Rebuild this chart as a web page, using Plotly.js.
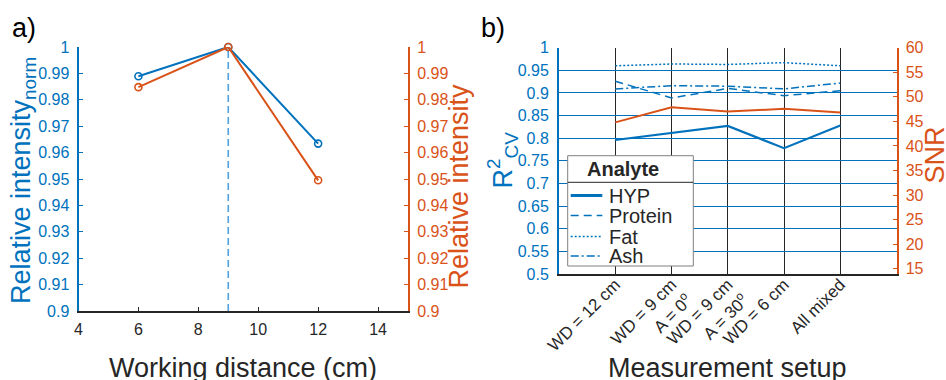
<!DOCTYPE html>
<html>
<head>
<meta charset="utf-8">
<script src="https://cdn.plot.ly/plotly-3.0.1.min.js"></script>
<style>
  html, body { margin: 0; padding: 0; background: #fff; }
  #chart { width: 946px; height: 380px; }
</style>
</head>
<body>
<div id="chart"></div>
<script>
// ---- a) intensity versus working distance ----
const workingDistance = [6, 9, 12];
const relIntensityNorm = [0.9889, 1.0, 0.9634];
const relIntensity = [0.9848, 1.0, 0.9495];
const bestDistance = 9;
const intensityRange = [0.9, 1];
const distanceTicks = [4, 6, 8, 10, 12, 14];
const intensityTicks = [0.9, 0.91, 0.92, 0.93, 0.94, 0.95, 0.96, 0.97, 0.98, 0.99, 1];
const intensityTickText = ['0.9', '0.91', '0.92', '0.93', '0.94', '0.95', '0.96', '0.97', '0.98', '0.99', '1'];

// ---- b) model quality per measurement setup ----
const setups = ['WD = 12 cm', 'WD = 9 cm<br>A = 0<sup>o</sup>', 'WD = 9 cm<br>A = 30<sup>o</sup>', 'WD = 6 cm', 'All mixed'];
const r2HYP = [0.796, 0.811, 0.827, 0.778, 0.828];
const r2Protein = [0.926, 0.889, 0.910, 0.894, 0.905];
const r2Fat = [0.960, 0.964, 0.963, 0.967, 0.960];
const r2Ash = [0.909, 0.916, 0.915, 0.909, 0.922];
const snr = [44.8, 47.85, 47.0, 47.55, 46.8];
const r2Ticks = [0.5, 0.55, 0.6, 0.65, 0.7, 0.75, 0.8, 0.85, 0.9, 0.95, 1];
const r2TickText = ['0.5', '0.55', '0.6', '0.65', '0.7', '0.75', '0.8', '0.85', '0.9', '0.95', '1'];
const snrTicks = [15, 20, 25, 30, 35, 40, 45, 50, 55, 60];
const analytes = ['HYP', 'Protein', 'Fat', 'Ash'];

const BLUE = '#0072BD';
const ORANGE = '#D95319';
const DARK = '#262626';
const LIGHTBLUE = '#4FA0DC';
const FONT = 'Liberation Sans, Arial, Helvetica, sans-serif';

const W = 946, H = 380;
const px = x => x / W;
const py = y => 1 - y / H;

const dashStyles = {
  HYP: 'solid',
  Protein: '8px,5px',
  Fat: '2px,2px',
  Ash: '8px,3px,2px,3px'
};
const widths = { HYP: 2.2, Protein: 1.5, Fat: 1.5, Ash: 1.5 };
const r2Series = { HYP: r2HYP, Protein: r2Protein, Fat: r2Fat, Ash: r2Ash };

const traces = [
  {
    x: [bestDistance, bestDistance], y: intensityRange,
    mode: 'lines', line: { color: LIGHTBLUE, width: 1.6, dash: '7px,4px' },
    xaxis: 'x', yaxis: 'y', showlegend: false, hoverinfo: 'skip'
  },
  {
    x: workingDistance, y: relIntensityNorm,
    mode: 'lines+markers', cliponaxis: false,
    line: { color: BLUE, width: 2 },
    marker: { symbol: 'circle-open', size: 7, color: BLUE, line: { width: 1.6, color: BLUE } },
    xaxis: 'x', yaxis: 'y', showlegend: false
  },
  {
    x: workingDistance, y: relIntensity,
    mode: 'lines+markers', cliponaxis: false,
    line: { color: ORANGE, width: 2 },
    marker: { symbol: 'circle-open', size: 7, color: ORANGE, line: { width: 1.6, color: ORANGE } },
    xaxis: 'x', yaxis: 'y2', showlegend: false
  }
];

analytes.forEach(name => {
  traces.push({
    x: setups, y: r2Series[name], name: name,
    mode: 'lines',
    line: { color: BLUE, width: widths[name], dash: dashStyles[name] },
    xaxis: 'x2', yaxis: 'y3', showlegend: false
  });
});

traces.push({
  x: setups, y: snr, name: 'SNR',
  mode: 'lines',
  line: { color: ORANGE, width: 2 },
  xaxis: 'x2', yaxis: 'y4', showlegend: false
});

const tickFont = (c, s) => ({ family: FONT, size: s || 16, color: c });

// legend box for panel b
const lg = { x0: 567.7, x1: 693.3, y0: 155.7, y1: 266, sep: 182.3, sx0: 570.7, sx1: 602.3, tx: 606.5 };
const rowY = [195.5, 215.5, 236.5, 256];

const shapes = [
  {
    type: 'rect', xref: 'paper', yref: 'paper', layer: 'above',
    x0: px(lg.x0), x1: px(lg.x1), y0: py(lg.y1), y1: py(lg.y0),
    fillcolor: '#ffffff', line: { color: '#7f7f7f', width: 1 }
  },
  {
    type: 'line', xref: 'paper', yref: 'paper', layer: 'above',
    x0: px(lg.x0), x1: px(lg.x1), y0: py(lg.sep), y1: py(lg.sep),
    line: { color: DARK, width: 1 }
  }
];
analytes.forEach((name, i) => {
  shapes.push({
    type: 'line', xref: 'paper', yref: 'paper', layer: 'above',
    x0: px(lg.sx0), x1: px(lg.sx1), y0: py(rowY[i]), y1: py(rowY[i]),
    line: { color: BLUE, width: name === 'HYP' ? 3 : 1.5, dash: dashStyles[name] }
  });
});

const titleFont = c => ({ family: FONT, size: 27, color: c });

const annotations = [
  { text: 'a)', x: px(10), y: py(28), xanchor: 'left', yanchor: 'middle', font: { family: FONT, size: 27, color: '#000' } },
  { text: 'b)', x: px(479), y: py(28), xanchor: 'left', yanchor: 'middle', font: { family: FONT, size: 27, color: '#000' } },
  { text: 'Relative intensity<sub>norm</sub>', x: px(23), y: py(181), textangle: -90, xanchor: 'center', yanchor: 'middle', font: titleFont(BLUE) },
  { text: 'Relative intensity', x: px(458), y: py(186.5), textangle: -90, xanchor: 'center', yanchor: 'middle', font: titleFont(ORANGE) },
  { text: 'Working distance (cm)', x: px(243), y: py(368), xanchor: 'center', yanchor: 'middle', font: titleFont(DARK) },
  { text: 'Measurement setup', x: px(727), y: py(368), xanchor: 'center', yanchor: 'middle', font: titleFont(DARK) },
  { text: 'R<sup>2</sup><sub>CV</sub>', x: px(503), y: py(160.5), textangle: -90, xanchor: 'center', yanchor: 'middle', font: titleFont(BLUE) },
  { text: 'SNR', x: px(934), y: py(155.5), textangle: -90, xanchor: 'center', yanchor: 'middle', font: titleFont(ORANGE) },
  { text: '<b>Analyte</b>', x: px(622.5), y: py(168.5), xanchor: 'center', yanchor: 'middle', font: { family: FONT, size: 20, color: DARK } }
];
analytes.forEach((name, i) => {
  annotations.push({
    text: name, x: px(lg.tx), y: py(rowY[i]), xanchor: 'left', yanchor: 'middle',
    font: { family: FONT, size: 20, color: DARK }
  });
});
annotations.forEach(a => { a.xref = 'paper'; a.yref = 'paper'; a.showarrow = false; });

const layout = {
  width: W, height: H,
  margin: { l: 0, r: 0, t: 0, b: 0, autoexpand: false },
  paper_bgcolor: '#ffffff', plot_bgcolor: '#ffffff',
  font: { family: FONT, color: DARK },
  showlegend: false,
  xaxis: {
    domain: [px(78.5), px(408)], anchor: 'y', range: [4, 15],
    tickvals: distanceTicks, ticks: 'inside', ticklen: 4, tickcolor: DARK,
    showline: true, linecolor: DARK, linewidth: 2, showgrid: false, zeroline: false,
    tickfont: tickFont(DARK), ticklabelstandoff: 3
  },
  yaxis: {
    domain: [py(311), py(47)], anchor: 'x', range: intensityRange,
    tickvals: intensityTicks, ticktext: intensityTickText,
    ticks: 'inside', ticklen: 4, tickcolor: BLUE,
    showline: true, linecolor: BLUE, linewidth: 2, showgrid: false, zeroline: false,
    tickfont: tickFont(BLUE), ticklabelstandoff: 4
  },
  yaxis2: {
    overlaying: 'y', side: 'right', anchor: 'x', range: intensityRange,
    tickvals: intensityTicks, ticktext: intensityTickText,
    ticks: 'inside', ticklen: 4, tickcolor: ORANGE,
    showline: true, linecolor: ORANGE, linewidth: 2, showgrid: false, zeroline: false,
    tickfont: tickFont(ORANGE), ticklabelstandoff: 4
  },
  xaxis2: {
    domain: [px(559), px(896.5)], anchor: 'y3', type: 'category',
    categoryorder: 'array', categoryarray: setups, range: [-1, 5],
    tickangle: -45, ticks: 'inside', ticklen: 4, tickcolor: DARK,
    showline: true, linecolor: DARK, linewidth: 2,
    showgrid: true, gridcolor: DARK, gridwidth: 1, zeroline: false,
    tickfont: tickFont(DARK, 17), ticklabelstandoff: -8
  },
  yaxis3: {
    domain: [py(274), py(47.7)], anchor: 'x2', range: [0.5, 1],
    tickvals: r2Ticks, ticktext: r2TickText, ticks: '',
    showline: true, linecolor: BLUE, linewidth: 2,
    showgrid: true, gridcolor: BLUE, gridwidth: 1, zeroline: false,
    tickfont: tickFont(BLUE), ticklabelstandoff: 5
  },
  yaxis4: {
    overlaying: 'y3', side: 'right', anchor: 'x2', range: [13.92, 60],
    tickvals: snrTicks, ticks: 'inside', ticklen: 4, tickcolor: ORANGE,
    showline: true, linecolor: ORANGE, linewidth: 2, showgrid: false, zeroline: false,
    tickfont: tickFont(ORANGE), ticklabelstandoff: 4
  },
  shapes: shapes,
  annotations: annotations
};

Plotly.newPlot('chart', traces, layout, { staticPlot: true, displayModeBar: false });
</script>
</body>
</html>
